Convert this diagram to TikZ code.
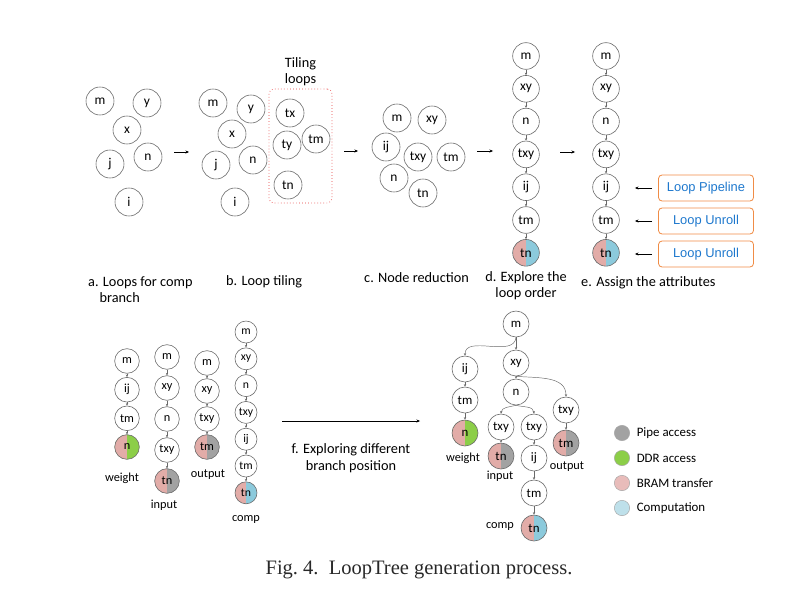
\documentclass[tikz,border=0pt]{standalone}
\usepackage{fontspec}
\setmainfont{Carlito}
\newfontfamily\attrfont{Liberation Sans}
\newfontfamily\capfont{Liberation Serif}
\usepackage{tikz}
\usetikzlibrary{arrows.meta, positioning, fit}
\definecolor{ringgray}{RGB}{105,105,105}
\definecolor{bram}{RGB}{226,172,168}
\definecolor{compblue}{RGB}{140,202,220}
\definecolor{ddrgreen}{RGB}{140,206,72}
\definecolor{pipegray}{RGB}{162,162,162}
\definecolor{legbram}{RGB}{232,188,186}
\definecolor{legcomp}{RGB}{190,224,234}
\definecolor{tilered}{RGB}{230,60,60}
\definecolor{attrorange}{RGB}{240,140,70}
\definecolor{attrblue}{RGB}{30,120,205}
\definecolor{captext}{RGB}{40,40,40}
\tikzset{
  loopnode/.style={circle, draw=ringgray, fill=white, minimum size=0.84cm,
    inner sep=0pt, font=\fontsize{11.5}{13}\selectfont, line width=0.5pt},
  chainnode/.style={loopnode, minimum size=0.8cm},
  treenode/.style={loopnode, minimum size=0.78cm, font=\fontsize{11}{13}\selectfont},
  smallnode/.style={loopnode, minimum size=0.74cm, font=\fontsize{10.5}{12}\selectfont},
  tinynode/.style={loopnode, minimum size=0.66cm, font=\fontsize{10}{12}\selectfont},
  split/.style={fill=#1, path picture={\fill[bram]
    (path picture bounding box.south west) rectangle (path picture bounding box.north);}},
  link/.style={-{Stealth[length=2.2pt,width=2pt]}, color=ringgray, line width=0.4pt},
  stagearrow/.style={-{Stealth[length=3pt,width=2.6pt]}, color=black, line width=0.5pt},
  steplabel/.style={font=\fontsize{12.2}{14}\selectfont, inner sep=0pt},
  branchlabel/.style={font=\fontsize{10.5}{12}\selectfont, inner sep=0pt},
  legendlabel/.style={font=\fontsize{11}{13}\selectfont, inner sep=0pt},
  attrbox/.style={rectangle, draw=attrorange, rounded corners=3pt, line width=0.7pt,
    minimum width=2.85cm, minimum height=0.78cm,
    font=\attrfont\fontsize{11}{13}\selectfont\color{attrblue}},
  tilebox/.style={draw=tilered, dotted, rounded corners=4pt, line width=0.6pt, inner sep=0pt},
  legenddot/.style={circle, draw=ringgray!60, minimum size=0.46cm, inner sep=0pt, line width=0.4pt}
}

\begin{document}
\begin{tikzpicture}[x=0.03cm, y=-0.03cm]
  \useasboundingbox (0,0) rectangle (795,594);

  % a. loops for comp branch
  \node[loopnode] (am) at (100,101) {m};
  \node[loopnode] (ay) at (147,103) {y};
  \node[loopnode] (ax) at (127,130) {x};
  \node[loopnode] (aj) at (110,164) {j};
  \node[loopnode] (an) at (148,157) {n};
  \node[loopnode] (ai) at (129,202) {i};
  \node[steplabel, anchor=north west, align=left] (alabel) at (88,276)
    {a. Loops for comp\\\hspace*{0.8em}branch};

  % b. loop tiling
  \node[loopnode] (bm) at (213,103) {m};
  \node[loopnode] (by) at (251,109) {y};
  \node[loopnode] (bx) at (232,134) {x};
  \node[loopnode] (bj) at (216,165) {j};
  \node[loopnode] (bn) at (253,160) {n};
  \node[loopnode] (bi) at (235,202) {i};
  \node[loopnode] (btx) at (290,113) {tx};
  \node[loopnode] (bty) at (287,145) {ty};
  \node[loopnode] (btm) at (316,139) {tm};
  \node[loopnode] (btn) at (288,185) {tn};
  \node[tilebox, fit={(269,89) (332,203)}] (tiles) {};
  \node[steplabel, align=center, above=2pt of tiles] (tilelabel) {Tiling\\loops};
  \node[steplabel, anchor=west] (blabel) at (226,282) {b. Loop tiling};

  % c. node reduction
  \node[loopnode] (cm) at (397,118) {m};
  \node[loopnode] (cxy) at (432,120) {xy};
  \node[loopnode] (cij) at (386,147) {ij};
  \node[loopnode] (ctxy) at (418,157) {txy};
  \node[loopnode] (ctm) at (451,157) {tm};
  \node[loopnode] (cn) at (394,178) {n};
  \node[loopnode] (ctn) at (423,193) {tn};
  \node[steplabel, anchor=west] (clabel) at (364,278) {c. Node reduction};

  % d. explore the loop order
  \foreach \t [count=\k] in {m,xy,n,txy,ij,tm}
    \node[chainnode] (d\k) at (526,{56+32.8*(\k-1)}) {\t};
  \node[chainnode, split=compblue] (d7) at (526,252.8) {tn};
  \foreach \k [evaluate=\k as \nxt using int(\k+1)] in {1,...,6}
    \draw[link] (d\k) -- (d\nxt);
  \node[steplabel, align=center, anchor=north] (dlabel) at (526,271)
    {d. Explore the\\loop order};

  % e. assign the attributes
  \foreach \t [count=\k] in {m,xy,n,txy,ij,tm}
    \node[chainnode] (e\k) at (606,{56+32.8*(\k-1)}) {\t};
  \node[chainnode, split=compblue] (e7) at (606,252.8) {tn};
  \foreach \k [evaluate=\k as \nxt using int(\k+1)] in {1,...,6}
    \draw[link] (e\k) -- (e\nxt);
  \node[attrbox] (pipeline) at (706,188) {Loop Pipeline};
  \node[attrbox] (unrolla) at (706,221) {Loop Unroll};
  \node[attrbox] (unrollb) at (706,254) {Loop Unroll};
  \draw[stagearrow] ([xshift=-0.18cm]pipeline.west) -- ([xshift=0.46cm]e5.east |- pipeline.west);
  \draw[stagearrow] ([xshift=-0.18cm]unrolla.west) -- ([xshift=0.46cm]e6.east |- unrolla.west);
  \draw[stagearrow] ([xshift=-0.18cm]unrollb.west) -- ([xshift=0.46cm]e7.east |- unrollb.west);
  \node[steplabel, anchor=west] (elabel) at (581,283) {e. Assign the attributes};

  % arrows between the stages
  \coordinate (ab1) at (174,152); \coordinate (ab2) at (189,152);
  \coordinate (bc1) at (344,151); \coordinate (bc2) at (358,151);
  \coordinate (cd1) at (477,151); \coordinate (cd2) at (493,151);
  \coordinate (de1) at (560,152); \coordinate (de2) at (575,152);
  \draw[stagearrow] (ab1) -- (ab2);
  \draw[stagearrow] (bc1) -- (bc2);
  \draw[stagearrow] (cd1) -- (cd2);
  \draw[stagearrow] (de1) -- (de2);

  % separate branches
  \node[smallnode] (wm) at (127,361) {m};
  \node[smallnode] (wij) at (127,389.7) {ij};
  \node[smallnode] (wtm) at (127,418.3) {tm};
  \node[smallnode, split=ddrgreen] (wn) at (127,447) {n};
  \draw[link] (wm) -- (wij);
  \draw[link] (wij) -- (wtm);
  \draw[link] (wtm) -- (wn);
  \node[branchlabel] (wlabel) at (122,478) {weight};

  \node[smallnode] (im) at (167,357) {m};
  \node[smallnode] (ixy) at (167,388) {xy};
  \node[smallnode] (inn) at (167,419) {n};
  \node[smallnode] (itxy) at (167,450) {txy};
  \node[smallnode, split=pipegray] (itn) at (167,481) {tn};
  \draw[link] (im) -- (ixy);
  \draw[link] (ixy) -- (inn);
  \draw[link] (inn) -- (itxy);
  \draw[link] (itxy) -- (itn);
  \node[branchlabel] (ilabel) at (164,505) {input};

  \node[smallnode] (om) at (207,363) {m};
  \node[smallnode] (oxy) at (207,391) {xy};
  \node[smallnode] (otxy) at (207,419) {txy};
  \node[smallnode, split=pipegray] (otm) at (207,447) {tm};
  \draw[link] (om) -- (oxy);
  \draw[link] (oxy) -- (otxy);
  \draw[link] (otxy) -- (otm);
  \node[branchlabel] (olabel) at (208,475) {output};

  \foreach \t [count=\k] in {m,xy,n,txy,ij,tm}
    \node[tinynode] (p\k) at (246,{332+26.8*(\k-1)}) {\t};
  \node[tinynode, split=compblue] (p7) at (246,492.8) {tn};
  \foreach \k [evaluate=\k as \nxt using int(\k+1)] in {1,...,6}
    \draw[link] (p\k) -- (p\nxt);
  \node[branchlabel] (plabel) at (246,519) {comp};

  % f. exploring different branch position
  \coordinate (f1) at (282,421); \coordinate (f2) at (420,421);
  \draw[stagearrow] (f1) -- (f2);
  \node[steplabel, align=center] (flabel) at (351,458)
    {f. Exploring different\\branch position};

  % merged loop tree
  \node[treenode] (tm0) at (516,324) {m};
  \node[treenode] (txy) at (516,363) {xy};
  \node[treenode] (tij) at (465,369) {ij};
  \node[treenode] (tn0) at (516,392) {n};
  \node[treenode] (ttm) at (465,400) {tm};
  \node[treenode, split=ddrgreen] (twn) at (465,433) {n};
  \node[treenode] (tlxy) at (501,427) {txy};
  \node[treenode] (tmxy) at (534,427) {txy};
  \node[treenode] (trxy) at (566,410) {txy};
  \node[treenode, split=pipegray] (titn) at (501,456) {tn};
  \node[treenode] (tcij) at (534,458) {ij};
  \node[treenode, split=pipegray] (totm) at (566,443) {tm};
  \node[treenode] (tctm) at (534,493) {tm};
  \node[treenode, split=compblue] (tctn) at (534,528) {tn};
  \draw[link] (tm0.south) to[out=-95, in=90] (tij.north);
  \draw[link] (tm0) -- (txy);
  \draw[link] (txy) -- (tn0);
  \draw[link] (txy.south) to[out=-5, in=90] (trxy.north);
  \draw[link] (tn0.south) to[out=-165, in=85] (tlxy.north);
  \draw[link] (tn0.south) to[out=-15, in=95] (tmxy.north);
  \draw[link] (tij) -- (ttm);
  \draw[link] (ttm) -- (twn);
  \draw[link] (tlxy) -- (titn);
  \draw[link] (tmxy) -- (tcij);
  \draw[link] (tcij) -- (tctm);
  \draw[link] (tctm) -- (tctn);
  \draw[link] (trxy) -- (totm);
  \node[branchlabel] (twlabel) at (463,458) {weight};
  \node[branchlabel] (tilabel) at (500,476) {input};
  \node[branchlabel] (tolabel) at (567,467) {output};
  \node[branchlabel] (tclabel) at (500,526) {comp};

  % legend
  \node[legenddot, fill=pipegray] (lpipe) at (622,433) {};
  \node[legenddot, fill=ddrgreen] (lddr) at (622,458) {};
  \node[legenddot, fill=legbram] (lbram) at (622,483) {};
  \node[legenddot, fill=legcomp] (lcomp) at (622,508) {};
  \node[legendlabel, right=0.2cm of lpipe] {Pipe access};
  \node[legendlabel, right=0.2cm of lddr] {DDR access};
  \node[legendlabel, right=0.2cm of lbram] {BRAM transfer};
  \node[legendlabel, right=0.2cm of lcomp] {Computation};

  % caption
  \node[font=\capfont\fontsize{17.5}{20}\selectfont, text=captext] (caption) at (419,570)
    {Fig.~4.\ \ LoopTree generation process.};
\end{tikzpicture}
\end{document}
